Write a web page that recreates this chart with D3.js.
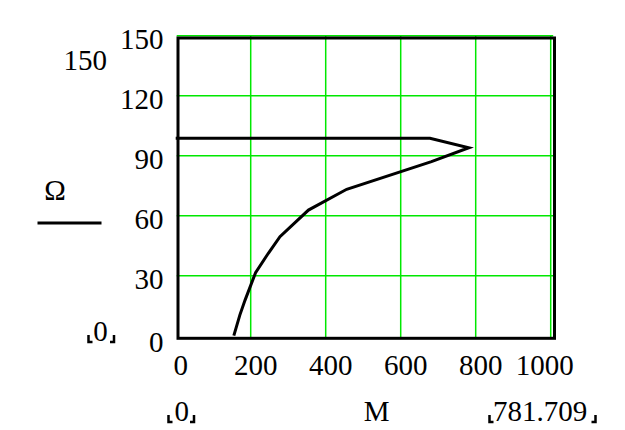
<!DOCTYPE html>
<html>
<head>
<meta charset="utf-8">
<script src="https://cdn.jsdelivr.net/npm/d3@7"></script>
<style>
  html, body { margin: 0; padding: 0; background: #fff; }
  svg { display: block; }
</style>
</head>
<body>
<div id="chart"></div>
<script>
// ---- data ----
const torqueM = [0, 678, 781.709, 682, 456, 354, 278, 247, 213, 185, 171, 155];
const omega   = [98.7, 98.7, 94, 87, 73.2, 62.8, 49.5, 41.2, 31.5, 17.8, 10.3, 0];
const xTicks = [0, 200, 400, 600, 800, 1000];
const yTicks = [0, 30, 60, 90, 120, 150];
const xLimitLow = "0", xLimitHigh = "781.709", xLabel = "M";
const yLimitLow = "0", yLimitHigh = "150", yLabel = "\u03A9";

// ---- layout ----
const W = 625, H = 430;
const plot = { left: 175.7, right: 550.7, top: 35.7, bottom: 335.7 };
const fontSize = 29;
const fontFamily = "'Liberation Serif', 'DejaVu Serif', 'Times New Roman', serif";
const gridColor = "#00e800";

const svg = d3.select("#chart").append("svg").attr("width", W).attr("height", H)
  .attr("font-family", fontFamily).style("font-family", fontFamily);

const x = d3.scaleLinear().domain([0, 1000]).range([plot.left, plot.right]);
const y = d3.scaleLinear().domain([0, 150]).range([plot.bottom, plot.top]);

// grid
const grid = svg.append("g").attr("stroke", gridColor).attr("stroke-width", 1.5);
grid.selectAll("line.v").data(xTicks.filter(d => d > 0)).join("line")
  .attr("x1", d => x(d)).attr("x2", d => x(d))
  .attr("y1", y(150)).attr("y2", y(0) + 3);
grid.selectAll("line.h").data(yTicks.filter(d => d > 0)).join("line")
  .attr("y1", d => y(d)).attr("y2", d => y(d))
  .attr("x1", x(0) + 1).attr("x2", x(1000) + 2.5);

// frame
svg.append("rect")
  .attr("x", x(0) + 2.3).attr("y", y(150) + 2.3)
  .attr("width", x(1000) - x(0) + 1.5).attr("height", y(0) - y(150) + 0.3)
  .attr("fill", "none").attr("stroke", "#000").attr("stroke-width", 3);

// curve
const pts = torqueM.map((m, i) => [m, omega[i]]);
svg.append("path")
  .datum(pts)
  .attr("fill", "none").attr("stroke", "#000").attr("stroke-width", 3)
  .attr("stroke-linejoin", "miter")
  .attr("d", d3.line().x(d => x(d[0])).y(d => y(d[1])));

// y tick labels
svg.append("g").selectAll("text").data(yTicks).join("text")
  .attr("x", 163.5).attr("y", d => y(d) + (d === 0 ? 16 : 13))
  .attr("text-anchor", "end").attr("font-size", fontSize)
  .text(d => d);

// x tick labels
svg.append("g").selectAll("text").data(xTicks).join("text")
  .attr("x", (d, i) => i === xTicks.length - 1 ? x(d) + 23 : x(d) + 5)
  .attr("y", 375)
  .attr("text-anchor", (d, i) => i === xTicks.length - 1 ? "end" : "middle")
  .attr("font-size", fontSize)
  .text(d => d);

// axis labels and limits
function label(tx, ty, str, anchor) {
  return svg.append("text").attr("x", tx).attr("y", ty)
    .attr("text-anchor", anchor).attr("font-size", fontSize).text(str);
}
function brackets(x1, x2, yb) {
  const g = svg.append("g").attr("fill", "none").attr("stroke", "#000").attr("stroke-width", 2.5);
  g.append("path").attr("d", `M${x1},${yb - 7}L${x1},${yb}L${x1 + 4},${yb}`);
  g.append("path").attr("d", `M${x2 - 4},${yb}L${x2},${yb}L${x2},${yb - 7}`);
}

label(181.7, 421, xLimitLow, "middle");
brackets(168.5, 194, 422);
label(376.7, 421, xLabel, "middle");
label(540, 421, xLimitHigh, "middle");
brackets(489.5, 595.5, 422);

label(107, 70, yLimitHigh, "end");
label(55, 200, yLabel, "middle");
svg.append("line").attr("x1", 37.5).attr("x2", 101.5).attr("y1", 223).attr("y2", 223)
  .attr("stroke", "#000").attr("stroke-width", 3);
label(100.5, 341, yLimitLow, "middle");
brackets(88.5, 114, 342);
</script>
</body>
</html>
